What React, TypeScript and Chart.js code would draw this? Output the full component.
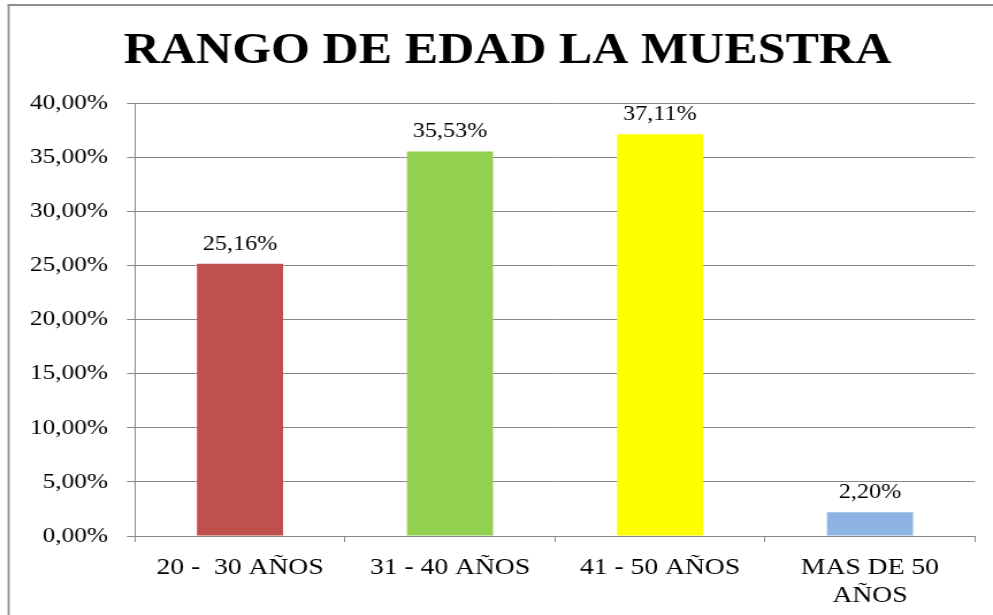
import React, { useEffect, useRef } from 'react';
import { Chart, registerables } from 'chart.js';

Chart.register(...registerables);

const TITLE = 'RANGO DE EDAD LA MUESTRA';
const categories: (string | string[])[] = ['20 -  30 AÑOS', '31 - 40 AÑOS', '41 - 50 AÑOS', ['MAS DE 50', 'AÑOS']];
const values: number[] = [25.16, 35.53, 37.11, 2.2];
const barColors: string[] = ['#C0504D', '#92D050', '#FFFF00', '#8DB4E2'];
const Y_MIN = 0;
const Y_MAX = 40;
const Y_STEP = 5;

const fmt = (v: number) => v.toFixed(2).replace('.', ',') + '%';

const W = 863;
const H = 615;
const STRETCH = 993 / W;
const FAMILY = '"Liberation Serif", "Times New Roman", serif';
const GRID = '#898989';

const decor = {
  id: 'decor',
  afterDraw(chart: any) {
    const ctx = chart.ctx as CanvasRenderingContext2D;
    ctx.save();
    ctx.fillStyle = '#8e8e8e';
    ctx.fillRect(6.6, 4, 1.8, H);
    ctx.fillRect(6.6, 4, W, 2);
    ctx.fillStyle = '#000';
    ctx.textAlign = 'center';
    ctx.textBaseline = 'alphabetic';
    ctx.font = `bold 43.5px ${FAMILY}`;
    ctx.fillText(TITLE, 507.5 / STRETCH, 63);
    ctx.font = `21px ${FAMILY}`;
    const meta = chart.getDatasetMeta(0);
    meta.data.forEach((bar: any, i: number) => {
      ctx.fillText(fmt(values[i]), bar.x, bar.y - 14);
    });
    ctx.restore();
  },
};

export default function App() {
  const ref = useRef<HTMLCanvasElement>(null);
  useEffect(() => {
    let chart: Chart | null = null;
    let cancelled = false;
    const build = () => {
      if (cancelled || !ref.current) return;
      chart = new Chart(ref.current, {
        type: 'bar',
        data: {
          labels: categories,
          datasets: [
            {
              data: values,
              backgroundColor: barColors,
              borderWidth: 0,
              barPercentage: 0.41,
              categoryPercentage: 1,
            },
          ],
        },
        options: {
          animation: false,
          responsive: false,
          devicePixelRatio: 1,
          layout: { padding: { top: 103, right: W - 975 / STRETCH, bottom: 0, left: 0 } },
          plugins: {
            legend: { display: false },
            title: { display: false },
            tooltip: { enabled: false },
          },
          scales: {
            x: {
              grid: {
                display: true,
                drawOnChartArea: false,
                drawTicks: true,
                tickLength: 6,
                color: GRID,
                offset: true,
              },
              border: { color: GRID, width: 1 },
              ticks: {
                font: { family: FAMILY, size: 24 },
                color: '#000',
                padding: 11,
                maxRotation: 0,
                autoSkip: false,
              },
              afterFit: (s: any) => {
                s.height = 79;
              },
            },
            y: {
              min: Y_MIN,
              max: Y_MAX,
              ticks: {
                stepSize: Y_STEP,
                callback: (v: any) => fmt(Number(v)),
                font: { family: FAMILY, size: 22 },
                color: '#000',
                padding: 16.4,
              },
              grid: { color: GRID, tickLength: 7 },
              border: { color: GRID, width: 1 },
              afterFit: (s: any) => {
                s.width = 135 / STRETCH;
              },
            },
          },
        },
        plugins: [decor],
      });
    };
    const fonts: any = (document as any).fonts;
    if (fonts && fonts.load) {
      Promise.all([
        fonts.load(`bold 43.5px "Liberation Serif"`),
        fonts.load(`22px "Liberation Serif"`),
      ])
        .catch(() => null)
        .then(build);
    } else {
      build();
    }
    return () => {
      cancelled = true;
      if (chart) chart.destroy();
    };
  }, []);
  return (
    <div style={{ position: 'absolute', left: 0, top: 0, width: 993, height: 615, background: '#fff' }}>
      <canvas ref={ref} width={W} height={H} style={{ width: '993px', height: '615px', display: 'block' }} />
    </div>
  );
}
